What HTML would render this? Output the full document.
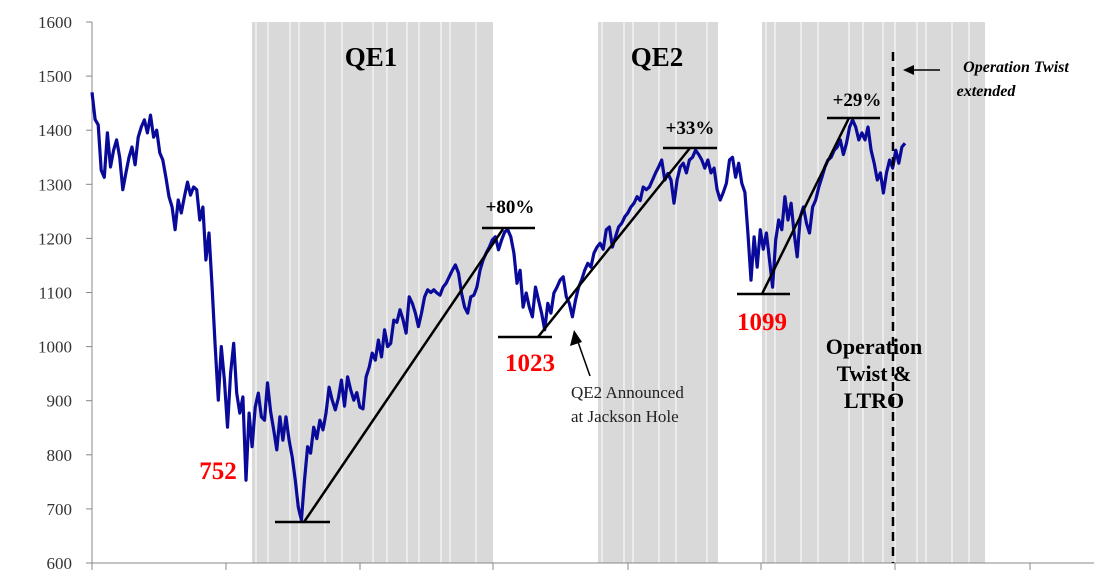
<!DOCTYPE html>
<html><head><meta charset="utf-8"><style>
body{margin:0;background:#fff}
svg text{font-family:"Liberation Serif",serif}
</style></head><body>
<svg id="chart" width="1094" height="575" viewBox="0 0 1094 575" xmlns="http://www.w3.org/2000/svg">
<g id="bands"></g>
<g id="axes"></g>
<g id="series"></g>
<g id="annot"></g>
</svg>
<script>
const yTicks=[600,700,800,900,1000,1100,1200,1300,1400,1500,1600];
const spx=[1470,1420,1410,1326,1313,1395,1332,1363,1382,1350,1290,1321,1350,1369,1336,1387,1406,1419,1395,1428,1387,1400,1358,1345,1313,1277,1258,1216,1271,1247,1277,1304,1280,1295,1290,1234,1258,1160,1210,1110,1000,901,1000,938,851,951,1006,914,877,907,753,877,815,888,914,870,864,933,880,846,809,870,827,870,827,796,753,703,679,753,815,803,851,830,864,846,877,925,901,883,905,938,890,944,920,901,915,888,885,944,962,988,975,1012,981,1031,1000,1006,1049,1045,1068,1050,1025,1092,1080,1062,1037,1062,1092,1105,1100,1105,1099,1095,1110,1117,1129,1141,1151,1136,1099,1073,1062,1092,1095,1110,1141,1160,1173,1184,1197,1203,
1179,1197,1212,1216,1203,1173,1117,1141,1073,1099,1073,1055,1110,1086,1062,1031,1080,1062,1099,1110,1123,1129,1092,1080,1055,1086,1110,1123,1141,1154,1147,1173,1184,1191,1180,1216,1221,1184,1203,1221,1228,1240,1247,1258,1265,1277,1270,1295,1290,1295,1308,1321,1332,1345,1308,1320,1308,1265,1308,1332,1339,1321,1345,1350,1363,1355,1345,1330,1345,1321,1330,1290,1271,1285,1302,1345,1350,1313,1339,1302,1285,1210,1123,1203,1147,1216,1180,1210,1160,1110,1197,1234,1216,1277,1234,1265,1210,1166,1240,1258,1228,1210,1258,1271,1295,1313,1332,1345,1350,1363,1369,1382,1355,1376,1406,1419,1406,1382,1395,1382,1406,1363,1339,1308,1321,1284,1321,1345,1330,1363,1339,1369,1376];
const bandRanges=[[252,493],[598,718],[762,985]];
const yScale=v=>22+(1600-v)*0.541;
const x0=92,x1=905;
const xScale=i=>x0+i*(x1-x0)/(spx.length-1);
const NS="http://www.w3.org/2000/svg";
function mk(tag,attrs,parent,txt){const e=document.createElementNS(NS,tag);for(const k in attrs)e.setAttribute(k,attrs[k]);if(txt!==undefined)e.textContent=txt;parent.appendChild(e);return e;}
const bands=document.getElementById('bands');
const gaps=[12,22,9,26,17,31,14,20];
bandRanges.forEach((r,bi)=>{
 const b=mk('rect',{x:r[0],y:22,width:r[1]-r[0],height:541,fill:'#d9d9d9'},bands);
 
 
 let k=bi;
 for(let x=r[0]+4;x<r[1]-2;x+=gaps[(k++)%gaps.length]){
  const l=mk('line',{x1:x,x2:x,y1:22,y2:563,stroke:'#fff','stroke-width':1},bands);
  
  
 }
});
const axes=document.getElementById('axes');
mk('line',{x1:92,x2:92,y1:22,y2:563,stroke:'#888','stroke-width':1},axes);
mk('line',{x1:92,x2:1094,y1:563,y2:563,stroke:'#888','stroke-width':1},axes);
yTicks.forEach(v=>{
 const y=yScale(v);
 mk('line',{x1:86,x2:92,y1:y,y2:y,stroke:'#888'},axes);
 const t=mk('text',{x:72,y:y+6,'text-anchor':'end','font-size':17,fill:'#333'},axes,v);
 
 
});
[92,226,360,493,628,761,895,1030].forEach(x=>mk('line',{x1:x,x2:x,y1:563,y2:570,stroke:'#888'},axes));
const series=document.getElementById('series');
const p=mk('polyline',{points:spx.map((v,i)=>xScale(i).toFixed(1)+','+yScale(v).toFixed(1)).join(' '),fill:'none',stroke:'#0a0a9a','stroke-width':3.2,'stroke-linejoin':'round'},series);


</script>
<svg style="position:absolute;left:0;top:0" width="1094" height="575">
<g stroke="#000" stroke-width="2.5">
<line x1="275" y1="522" x2="330" y2="522"/><line x1="304" y1="522" x2="503" y2="229"/>
<line x1="482" y1="228" x2="535" y2="228"/>
<line x1="498" y1="337" x2="552" y2="337"/><line x1="538" y1="337" x2="690" y2="148"/>
<line x1="663" y1="148" x2="717" y2="148"/>
<line x1="737" y1="294" x2="790" y2="294"/><line x1="762" y1="294" x2="849" y2="118"/>
<line x1="827" y1="118" x2="880" y2="118"/>
</g>
<line x1="893" y1="52" x2="893" y2="563" stroke="#000" stroke-width="2.5" stroke-dasharray="9,6"/>
<line x1="590" y1="376" x2="578" y2="342" stroke="#000" stroke-width="1.5"/>
<polygon points="574,330 570,346 582,342" fill="#000"/>
<line x1="940" y1="70" x2="912" y2="70" stroke="#000" stroke-width="1.5"/>
<polygon points="903,70 914,65 914,75" fill="#000"/>
<g font-family="Liberation Serif,serif">
<text x="371" y="66" font-size="27" font-weight="bold" text-anchor="middle">QE1</text>
<text x="657" y="66" font-size="27" font-weight="bold" text-anchor="middle">QE2</text>
<text x="510" y="213" font-size="19" font-weight="bold" text-anchor="middle">+80%</text>
<text x="690" y="134" font-size="19" font-weight="bold" text-anchor="middle">+33%</text>
<text x="857" y="106" font-size="19" font-weight="bold" text-anchor="middle">+29%</text>
<text x="218" y="479" font-size="25" font-weight="bold" fill="#f00" text-anchor="middle">752</text>
<text x="530" y="371" font-size="25" font-weight="bold" fill="#f00" text-anchor="middle">1023</text>
<text x="762" y="330" font-size="25" font-weight="bold" fill="#f00" text-anchor="middle">1099</text>
<text x="571" y="398" font-size="17" fill="#222">QE2 Announced</text>
<text x="571" y="422" font-size="17" fill="#222">at Jackson Hole</text>
<text x="874" y="354" font-size="22" font-weight="bold" text-anchor="middle">Operation</text>
<text x="874" y="381" font-size="22" font-weight="bold" text-anchor="middle">Twist &amp;</text>
<text x="874" y="408" font-size="22" font-weight="bold" text-anchor="middle">LTRO</text>
<text x="1016" y="72" font-size="16" font-weight="bold" font-style="italic" text-anchor="middle">Operation Twist</text>
<text x="986" y="96" font-size="16" font-weight="bold" font-style="italic" text-anchor="middle">extended</text>
</g>
</svg>
</body></html>
